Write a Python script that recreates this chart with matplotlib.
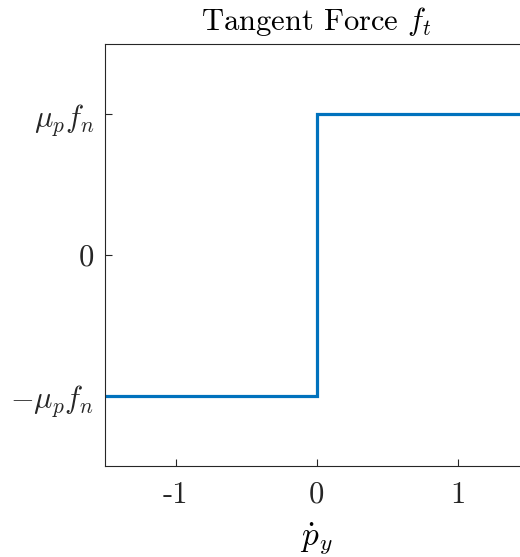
import matplotlib
matplotlib.use("Agg")
import matplotlib.pyplot as plt

plt.rcParams['mathtext.fontset'] = 'cm'
plt.rcParams['font.family'] = 'serif'
plt.rcParams['font.serif'] = ['cmr10']
plt.rcParams['axes.formatter.use_mathtext'] = True

x_vals = [-1.5, 0, 0, 1.5]
y_vals = [-1, -1, 1, 1]
x_ticks = [-1, 0, 1]
x_labels = ['-1', '0', '1']
y_ticks = [-1, 0, 1]
y_labels = [r'$-\mu_p f_n$', r'$0$', r'$\mu_p f_n$']

fig = plt.figure(figsize=(5.2, 5.57), dpi=100)
W, H = 520, 557
ax = fig.add_axes([105 / W, 1 - 466 / H, (528.5 - 105) / W, (466 - 44) / H])
ax.plot(x_vals, y_vals, color='#0072BD', lw=2.3, solid_joinstyle='miter')
ax.set_xlim(-1.5, 1.5)
ax.set_ylim(-1.5, 1.5)
ax.set_xticks(x_ticks)
ax.set_xticklabels(x_labels)
ax.set_yticks(y_ticks)
ax.set_yticklabels(y_labels)
gc = '#262626'
for s in ax.spines.values():
    s.set_color(gc)
    s.set_linewidth(0.8)
ax.tick_params(direction='in', length=5, width=0.8, colors=gc, labelsize=22, pad=8)
ax.tick_params(axis='x', pad=11)
ax.set_title(r'Tangent Force $f_t$', fontsize=22, color='black', pad=10)
ax.set_xlabel(r'$\dot{p}_y$', fontsize=24, labelpad=8)
fig.savefig('out.png', dpi=100)
